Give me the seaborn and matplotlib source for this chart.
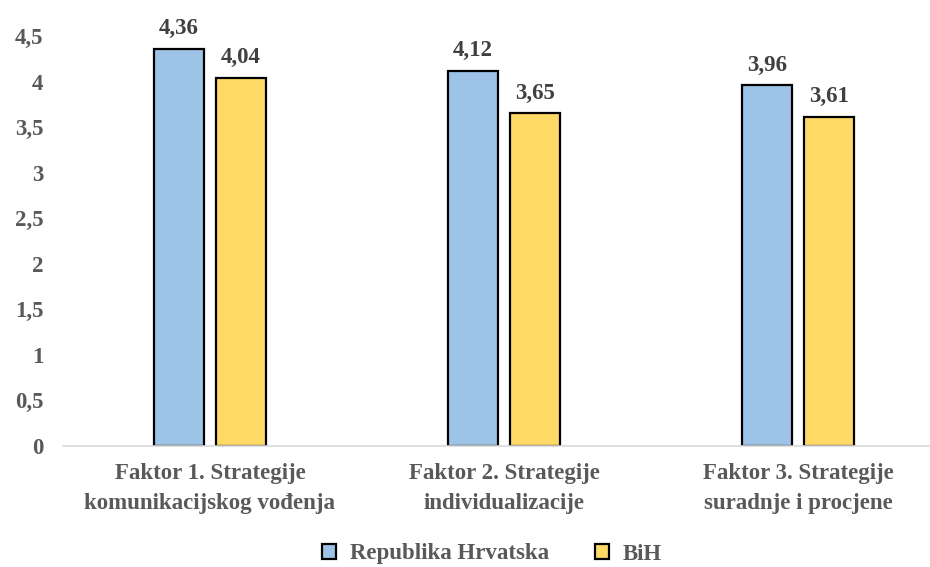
import numpy as np
import matplotlib.pyplot as plt
import pandas as pd
import seaborn as sns

# data
factors = [
    "Faktor 1. Strategije\nkomunikacijskog vođenja",
    "Faktor 2. Strategije\nindividualizacije",
    "Faktor 3. Strategije\nsuradnje i procjene",
]
countries = ["Republika Hrvatska", "BiH"]
hrvatska = [4.36, 4.12, 3.96]
bih = [4.04, 3.65, 3.61]
y_ticks = [0, 0.5, 1, 1.5, 2, 2.5, 3, 3.5, 4, 4.5]

df = pd.DataFrame({
    "factor": factors * 2,
    "country": [countries[0]] * 3 + [countries[1]] * 3,
    "value": hrvatska + bih,
})

sns.set_theme(style="white")
plt.rcParams['font.family'] = ['Liberation Serif', 'DejaVu Serif']
plt.rcParams['font.weight'] = 'bold'

fs = 16.5

fig = plt.figure(figsize=(9.3, 5.67), dpi=100)
ax = fig.add_axes([63 / 930, 1 - 446 / 567, 882 / 930, 410 / 567])

palette = {"Republika Hrvatska": "#9DC3E6", "BiH": "#FFD966"}

sns.barplot(
    data=df, x="factor", y="value", hue="country",
    hue_order=countries, palette=palette,
    width=0.42, gap=0.2, edgecolor="black", linewidth=1.6,
    saturation=1, ax=ax,
)

# value labels with comma decimals
for cont in ax.containers:
    ax.bar_label(
        cont, labels=[f"{v:.2f}".replace(".", ",") for v in cont.datavalues],
        padding=7, fontsize=fs, fontweight="bold", color="#404040",
    )

ax.set_xlim(-0.5, 2.5)
ax.set_ylim(0, 4.5)
ax.set_yticks(y_ticks)
ax.set_yticklabels([f"{t:g}".replace(".", ",") for t in y_ticks])
ax.set_xlabel("")
ax.set_ylabel("")

ax.tick_params(axis="y", length=0, pad=14, labelsize=fs, labelcolor="#595959")
ax.tick_params(axis="x", length=0, pad=12, labelsize=fs, labelcolor="#595959")
for lab in ax.get_xticklabels():
    lab.set_linespacing(1.6)

for side in ["top", "right", "left"]:
    ax.spines[side].set_visible(False)
ax.spines["bottom"].set_color("#D9D9D9")
ax.spines["bottom"].set_linewidth(1.2)

ax.legend(
    loc="center", bbox_to_anchor=(492 / 930, 13 / 567),
    bbox_transform=fig.transFigure, ncol=2, frameon=False,
    fontsize=fs, labelcolor="#595959", handlelength=0.6, handleheight=0.6,
    handletextpad=0.6, columnspacing=2.0,
)

plt.savefig("out.png", dpi=100)
